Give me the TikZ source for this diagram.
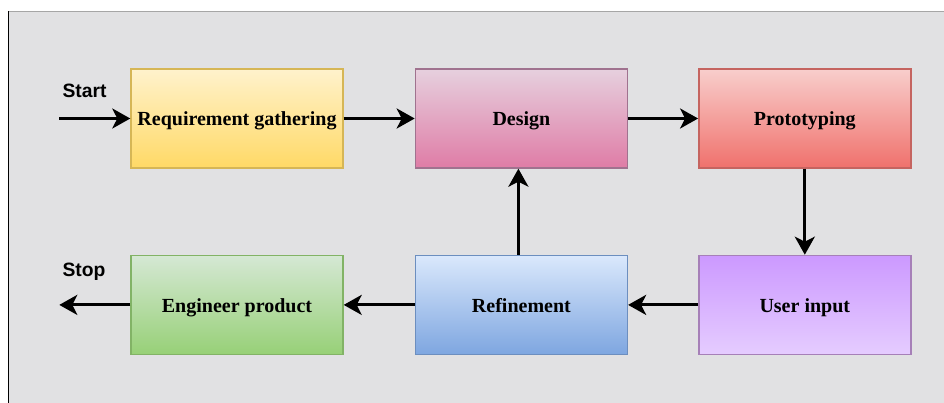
\documentclass[tikz,border=0pt]{standalone}
\usepackage{fontspec}
\setmainfont{Liberation Serif}
\newfontfamily\tagfont{Liberation Sans}
\usepackage{tikz}
\usetikzlibrary {arrows.meta,
                 positioning}
\definecolor{panelgray}{HTML}{E1E1E3}
\definecolor{reqtop}{HTML}{FFF2CC}
\definecolor{reqbot}{HTML}{FFD966}
\definecolor{reqline}{HTML}{D6B656}
\definecolor{destop}{HTML}{E6D0DE}
\definecolor{desbot}{HTML}{DF7CA6}
\definecolor{desline}{HTML}{A0728F}
\definecolor{prottop}{HTML}{F8CECC}
\definecolor{protbot}{HTML}{F0716C}
\definecolor{protline}{HTML}{C56460}
\definecolor{usertop}{HTML}{CC99FF}
\definecolor{userbot}{HTML}{E5CCFF}
\definecolor{userline}{HTML}{A680B8}
\definecolor{reftop}{HTML}{DAE8FC}
\definecolor{refbot}{HTML}{7EA6E0}
\definecolor{refline}{HTML}{6C8EBF}
\definecolor{engtop}{HTML}{D5E8D4}
\definecolor{engbot}{HTML}{97D077}
\definecolor{engline}{HTML}{82B366}
\tikzset{
        base/.style={draw, line width=1.4pt, align=center, minimum width=212pt,
                     minimum height=99pt, text height=15pt, text depth=0pt,
                     font=\fontsize{20}{24}\selectfont\bfseries},
        reqbox/.style={base, draw=reqline, top color=reqtop, bottom color=reqbot},
        desbox/.style={base, draw=desline, top color=destop, bottom color=desbot},
        protbox/.style={base, draw=protline, top color=prottop, bottom color=protbot},
        userbox/.style={base, draw=userline, top color=usertop, bottom color=userbot},
        refbox/.style={base, draw=refline, top color=reftop, bottom color=refbot},
        engbox/.style={base, draw=engline, top color=engtop, bottom color=engbot},
        tag/.style={inner sep=0pt, font=\tagfont\fontsize{19.3}{23}\selectfont\bfseries},
        myarrow/.style={-{Stealth[length=18pt, width=20pt, inset=5pt]}, line width=3pt},
 }

\begin{document}
\begin{tikzpicture}[x=1pt, y=-1pt]
    \useasboundingbox (0,0) rectangle (944,403);
    % panel behind the flow
    \fill[white] (0,0) rectangle (944,403);
    \fill[panelgray] (8,11) rectangle (944,403);
    \draw[black!35, line width=1.5pt] (8,11.5) -- (944,11.5);
    \draw[black, line width=1.8pt] (8.5,11) -- (8.5,403);

    \node[reqbox] (req) at (237,118.5) {Requirement gathering};
    \node[desbox, right=71pt of req] (design) {Design};
    \node[protbox, right=70pt of design] (proto) {Prototyping};

    \node[userbox, below=86pt of proto] (user) {User input};
    \node[refbox, below=86pt of design] (refine) {Refinement};
    \node[engbox, below=86pt of req] (eng) {Engineer product};

    \coordinate[left=71pt of req.west] (start);
    \coordinate[left=71pt of eng.west] (stop);
    \node[tag, above right=21pt and 3pt of start] (startlabel) {Start};
    \node[tag, above right=24pt and 3pt of stop] (stoplabel) {Stop};

    \draw[myarrow] (start) -- (req);
    \draw[myarrow] (req) -- (design);
    \draw[myarrow] (design) -- (proto);
    \draw[myarrow] (proto.south -| user) -- (user);
    \draw[myarrow] (user) -- (refine);
    \draw[myarrow] ([xshift=-3pt]refine.north) -- ([xshift=-3pt]design.south);
    \draw[myarrow] (refine) -- (eng);
    \draw[myarrow] (eng) -- (stop);
\end{tikzpicture}
\end{document}
